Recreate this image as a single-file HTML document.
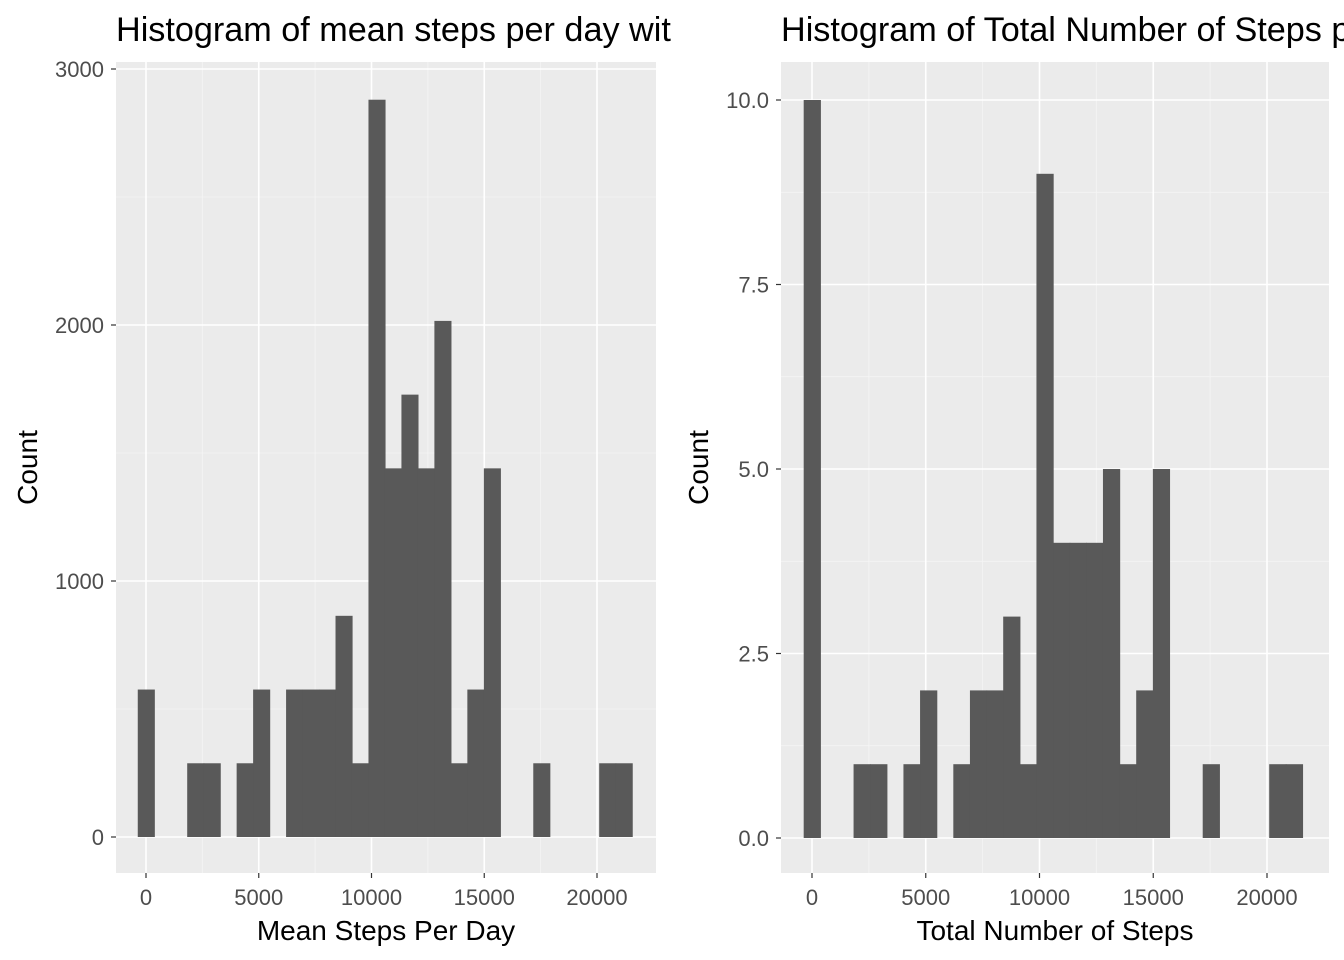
<!DOCTYPE html>
<html><head><meta charset="utf-8">
<style>
body{margin:0;background:#fff;}
svg{display:block;font-family:"Liberation Sans",sans-serif;}
</style></head>
<body>
<svg id="chart" width="1344" height="960" viewBox="0 0 1344 960" xmlns="http://www.w3.org/2000/svg">
<text x="116" y="41" font-size="34.2" fill="#000">Histogram of mean steps per day wit</text>
<text x="781" y="41" font-size="34.2" fill="#000">Histogram of Total Number of Steps p</text>
</svg>
<script>
const leftCounts = [576,0,0,288,288,0,288,576,0,576,576,576,864,288,2880,1440,1728,1440,2016,288,576,1440,0,0,288,0,0,0,288,288];
const rightCounts = [10,0,0,1,1,0,1,2,0,1,2,2,3,1,9,4,4,4,5,1,2,5,0,0,1,0,0,0,1,1];
const binWidth = 730.8;
const xTicks = [0,5000,10000,15000,20000];
const leftYTicks = [0,1000,2000,3000];
const leftYLabels = ["0","1000","2000","3000"];
const rightYTicks = [0,2.5,5,7.5,10];
const rightYLabels = ["0.0","2.5","5.0","7.5","10.0"];

const svg = document.getElementById('chart');
const NS = 'http://www.w3.org/2000/svg';
function mk(tag, attrs, parent){
  const e = document.createElementNS(NS, tag);
  for (const k in attrs) e.setAttribute(k, attrs[k]);
  (parent||svg).appendChild(e);
  return e;
}
function panel(p){
  const g = mk('g', {});
  
  
  const bg = mk('rect', {x:p.x0,y:p.y0,width:p.x1-p.x0,height:p.y1-p.y0,fill:'#ebebeb'}, g);
  
  
  const xs = v => p.xz + v * p.xk;
  const ys = v => p.yz - v * p.yk;
  for (let i=0;i<xTicks.length-1;i++){
    const v=(xTicks[i]+xTicks[i+1])/2;
    mk('line',{x1:xs(v),x2:xs(v),y1:p.y0,y2:p.y1,stroke:'#f5f5f5','stroke-width':0.8},g);
  }
  for (let i=0;i<p.yt.length-1;i++){
    const v=(p.yt[i]+p.yt[i+1])/2;
    mk('line',{x1:p.x0,x2:p.x1,y1:ys(v),y2:ys(v),stroke:'#f5f5f5','stroke-width':0.8},g);
  }
  const top=p.yt[p.yt.length-1]+(p.yt[1]-p.yt[0])/2;
  if (ys(top)>p.y0) mk('line',{x1:p.x0,x2:p.x1,y1:ys(top),y2:ys(top),stroke:'#f5f5f5','stroke-width':0.8},g);
  xTicks.forEach(v=>{
    mk('line',{x1:xs(v),x2:xs(v),y1:p.y0,y2:p.y1,stroke:'#fff','stroke-width':1.6},g);
    mk('line',{x1:xs(v),x2:xs(v),y1:p.y1,y2:p.y1+5,stroke:'#333','stroke-width':1.2},g);
    const t = mk('text',{x:xs(v),y:p.y1+32,'font-size':22,fill:'#4d4d4d','text-anchor':'middle'},g);
    t.textContent = v;
    
    
  });
  p.yt.forEach((v,i)=>{
    mk('line',{x1:p.x0,x2:p.x1,y1:ys(v),y2:ys(v),stroke:'#fff','stroke-width':1.6},g);
    mk('line',{x1:p.x0-5,x2:p.x0,y1:ys(v),y2:ys(v),stroke:'#333','stroke-width':1.2},g);
    const t = mk('text',{x:p.x0-12,y:ys(v)+8,'font-size':22,fill:'#4d4d4d','text-anchor':'end'},g);
    t.textContent = p.yl[i];
    
    
  });
  p.counts.forEach((c,i)=>{
    if (!c) return;
    const l = xs((i-0.5)*binWidth), r = xs((i+0.5)*binWidth);
    const b = mk('rect',{x:l,y:ys(c),width:r-l+0.6,height:ys(0)-ys(c),fill:'#595959'},g);
    
    
  });
  const xt = mk('text',{x:(p.x0+p.x1)/2,y:p.y1+67,'font-size':28,fill:'#000','text-anchor':'middle'},g);
  xt.textContent = p.xTitle;
  
  
  const cy=(p.y0+p.y1)/2;
  const yt = mk('text',{x:p.yTitleX,y:cy,'font-size':28,fill:'#000','text-anchor':'middle',transform:`rotate(-90 ${p.yTitleX} ${cy})`},g);
  yt.textContent = 'Count';
  
  
}
panel({name:'left-panel',x0:116,x1:656,y0:62,y1:873,xz:146,xk:451/20000,yz:837,yk:768/3000,
  yt:leftYTicks,yl:leftYLabels,counts:leftCounts,xTitle:'Mean Steps Per Day',yTitleX:37});
panel({name:'right-panel',x0:781,x1:1329,y0:62,y1:873,xz:812,xk:455/20000,yz:838,yk:73.8,
  yt:rightYTicks,yl:rightYLabels,counts:rightCounts,xTitle:'Total Number of Steps',yTitleX:708});
</script>
</body></html>
